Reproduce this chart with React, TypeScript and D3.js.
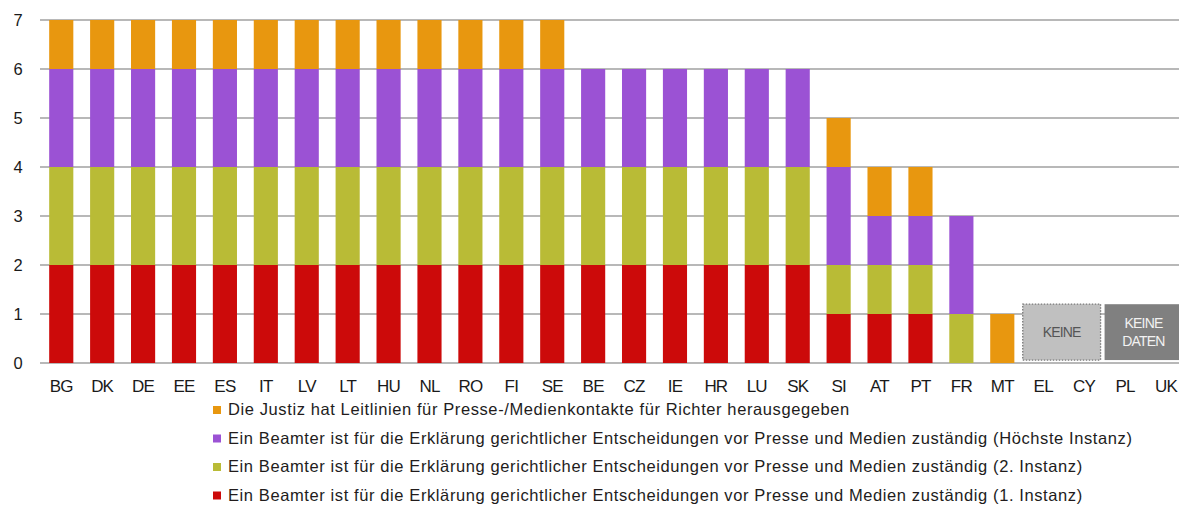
import React from "react";
import * as d3 from "d3";

const countries = [
  "BG", "DK", "DE", "EE", "ES", "IT", "LV", "LT", "HU", "NL", "RO", "FI", "SE",
  "BE", "CZ", "IE", "HR", "LU", "SK", "SI", "AT", "PT", "FR", "MT", "EL", "CY", "PL", "UK",
];

// one value per country, same order as above
const firstInstance = [2, 2, 2, 2, 2, 2, 2, 2, 2, 2, 2, 2, 2, 2, 2, 2, 2, 2, 2, 1, 1, 1, 0, 0, 0, 0, 0, 0];
const secondInstance = [2, 2, 2, 2, 2, 2, 2, 2, 2, 2, 2, 2, 2, 2, 2, 2, 2, 2, 2, 1, 1, 1, 1, 0, 0, 0, 0, 0];
const highestInstance = [2, 2, 2, 2, 2, 2, 2, 2, 2, 2, 2, 2, 2, 2, 2, 2, 2, 2, 2, 2, 1, 1, 2, 0, 0, 0, 0, 0];
const guidelines = [1, 1, 1, 1, 1, 1, 1, 1, 1, 1, 1, 1, 1, 0, 0, 0, 0, 0, 0, 1, 1, 1, 0, 1, 0, 0, 0, 0];

const yTicks = [0, 1, 2, 3, 4, 5, 6, 7];

const seriesKeys = ["first", "second", "highest", "guide"];
const seriesColors = {
  first: "#cc0a0a",
  second: "#b9bb36",
  highest: "#9b52d4",
  guide: "#e8970f",
};

// legend order is top to bottom as shown
const legendItems = [
  { key: "guide", label: "Die Justiz hat Leitlinien für Presse-/Medienkontakte für Richter herausgegeben" },
  { key: "highest", label: "Ein Beamter ist für die Erklärung gerichtlicher Entscheidungen vor Presse und Medien zuständig (Höchste Instanz)" },
  { key: "second", label: "Ein Beamter ist für die Erklärung gerichtlicher Entscheidungen vor Presse und Medien zuständig (2. Instanz)" },
  { key: "first", label: "Ein Beamter ist für die Erklärung gerichtlicher Entscheidungen vor Presse und Medien zuständig (1. Instanz)" },
];

const noData = [
  { from: "EL", to: "CY", lines: ["KEINE"], fill: "#c0c0c0", text: "#555", dashed: true },
  { from: "PL", to: "UK", lines: ["KEINE", "DATEN"], fill: "#808080", text: "#f2f2f2", dashed: false },
];

const W = 1179;
const H = 507;
const font = "'Liberation Sans', Arial, Helvetica, sans-serif";

export default function App() {
  const rows = countries.map((c, i) => ({
    country: c,
    first: firstInstance[i],
    second: secondInstance[i],
    highest: highestInstance[i],
    guide: guidelines[i],
  }));

  const stacked = d3.stack().keys(seriesKeys)(rows as any);

  const x = d3
    .scaleBand()
    .domain(countries)
    .range([41, 41 + countries.length * 40.9])
    .paddingInner(0.41)
    .paddingOuter(0.2);

  const y = d3.scaleLinear().domain([0, 7]).range([363, 20]);

  const gap = x.step() - x.bandwidth();

  return (
    <svg
      width={W}
      height={H}
      style={{ position: "absolute", left: 0, top: 0, background: "#fff" }}
      fontFamily={font}
    >
      {/* gridlines */}
      {yTicks.map((t) => (
        <line key={t} x1={40} x2={W} y1={y(t)} y2={y(t)} stroke="#a0a0a0" strokeWidth={1.5} />
      ))}
      {yTicks.map((t) => (
        <text key={"yl" + t} x={18} y={y(t) + 6} fontSize={16.5} textAnchor="middle" fill="#1a1a1a">
          {t}
        </text>
      ))}

      {/* bars */}
      {stacked.map((s) => (
        <g key={s.key} fill={(seriesColors as any)[s.key]}>
          {s.map((d: any) =>
            d[1] - d[0] > 0 ? (
              <rect
                key={d.data.country}
                x={x(d.data.country)}
                width={x.bandwidth()}
                y={y(d[1])}
                height={y(d[0]) - y(d[1])}
              />
            ) : null
          )}
        </g>
      ))}

      {/* no-data boxes */}
      {noData.map((b) => {
        const x0 = (x(b.from) as number) - gap / 2;
        const x1 = (x(b.to) as number) + x.bandwidth() + gap / 2 - 4;
        const y0 = y(1.2);
        const y1 = y(0.06);
        const cx = (x0 + x1) / 2;
        const cy = (y0 + y1) / 2;
        return (
          <g key={b.from}>
            <rect
              x={x0}
              y={y0}
              width={x1 - x0}
              height={y1 - y0}
              fill={b.fill}
              stroke={b.dashed ? "#777" : "none"}
              strokeDasharray={b.dashed ? "1.5 1.5" : undefined}
              strokeWidth={1.3}
            />
            {b.lines.map((l, i) => (
              <text
                key={l}
                x={cx}
                y={cy + 5 + (i - (b.lines.length - 1) / 2) * 18}
                textAnchor="middle"
                fontSize={14}
                letterSpacing={-0.8}
                fill={b.text}
              >
                {l}
              </text>
            ))}
          </g>
        );
      })}

      {/* x labels */}
      {countries.map((c) => (
        <text
          key={"xl" + c}
          x={(x(c) as number) + x.bandwidth() / 2}
          y={392}
          textAnchor="middle"
          fontSize={17}
          letterSpacing={-0.8}
          fill="#1a1a1a"
        >
          {c}
        </text>
      ))}

      {/* legend */}
      {legendItems.map((it, i) => (
        <g key={it.key} transform={`translate(213, ${406 + i * 28.5})`}>
          <rect x={0} y={0} width={8} height={8} fill={(seriesColors as any)[it.key]} />
          <text x={15} y={9} fontSize={16.5} fill="#221c1c" letterSpacing={0.6}>
            {it.label}
          </text>
        </g>
      ))}
    </svg>
  );
}
